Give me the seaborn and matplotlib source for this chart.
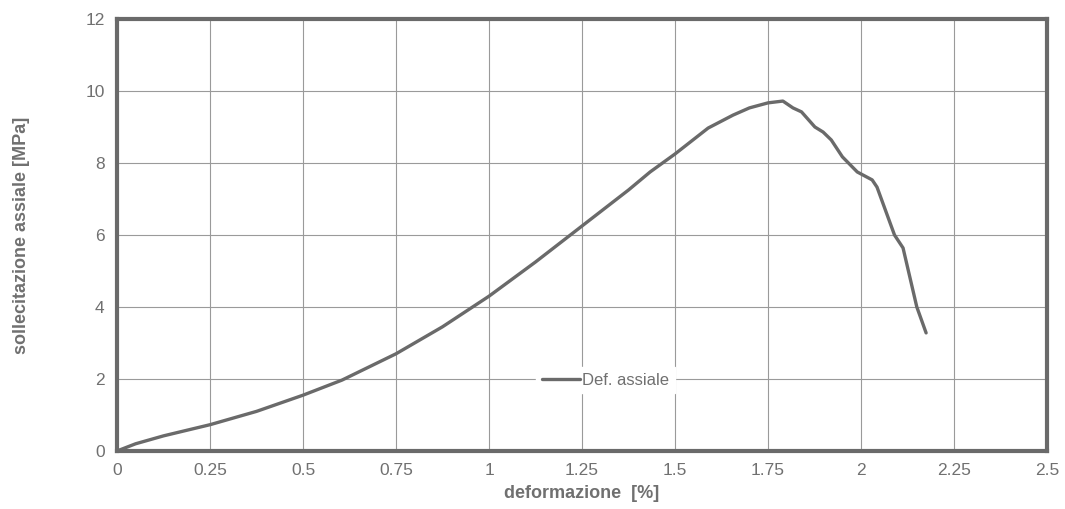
import pandas as pd
import matplotlib.pyplot as plt
import seaborn as sns

# Dati: deformazione [%] e sollecitazione assiale [MPa]
deformazione = [0.0, 0.05, 0.125, 0.25, 0.375, 0.5, 0.605, 0.75, 0.875, 1.0,
                1.125, 1.25, 1.375, 1.433, 1.5, 1.589, 1.656, 1.70, 1.75, 1.79,
                1.817, 1.84, 1.876, 1.898, 1.92, 1.95, 1.99, 2.03, 2.043, 2.09,
                2.113, 2.15, 2.175]
sollecitazione = [0.0, 0.2, 0.42, 0.73, 1.1, 1.55, 1.97, 2.7, 3.45, 4.3,
                  5.25, 6.25, 7.25, 7.75, 8.25, 8.97, 9.33, 9.53, 9.67, 9.72,
                  9.53, 9.42, 9.0, 8.86, 8.64, 8.17, 7.75, 7.53, 7.33, 6.0,
                  5.64, 4.0, 3.28]
x_ticks = [0, 0.25, 0.5, 0.75, 1, 1.25, 1.5, 1.75, 2, 2.25, 2.5]
x_labels = ['0', '0.25', '0.5', '0.75', '1', '1.25', '1.5', '1.75', '2', '2.25', '2.5']
y_ticks = [0, 2, 4, 6, 8, 10, 12]

df = pd.DataFrame({'deformazione': deformazione, 'sollecitazione': sollecitazione})

sns.set_style('white')
plt.rcParams['font.family'] = ['Liberation Sans', 'DejaVu Sans']

fig = plt.figure(figsize=(10.65, 5.09), dpi=100)
ax = fig.add_axes([0.1099, 0.114, 0.8732, 0.8487])

sns.lineplot(data=df, x='deformazione', y='sollecitazione', sort=False,
             color='#6a6a6a', linewidth=2.4, label='Def. assiale', ax=ax)

ax.set_xlim(0, 2.5)
ax.set_ylim(0, 12)
ax.set_xticks(x_ticks)
ax.set_xticklabels(x_labels)
ax.set_yticks(y_ticks)
ax.grid(True, color='#9a9a9a', linewidth=0.8)
ax.tick_params(axis='both', colors='#707070', labelsize=12.5, length=0, pad=9)

for s in ax.spines.values():
    s.set_color('#6a6a6a')
    s.set_linewidth(3)

ax.set_xlabel('deformazione  [%]', fontsize=13, fontweight='bold', color='#707070', labelpad=5)
ax.set_ylabel('sollecitazione assiale [MPa]', fontsize=13, fontweight='bold', color='#707070', labelpad=40)

leg = ax.legend(loc='center', bbox_to_anchor=(0.525, 1.97 / 12), frameon=True,
                fontsize=12, handlelength=2.3, handletextpad=0.1, borderpad=0.35,
                fancybox=False, framealpha=1)
leg.get_frame().set_facecolor('white')
leg.get_frame().set_edgecolor('white')
leg.set_zorder(10)
for t in leg.get_texts():
    t.set_color('#707070')

plt.savefig('out.png', dpi=100)
